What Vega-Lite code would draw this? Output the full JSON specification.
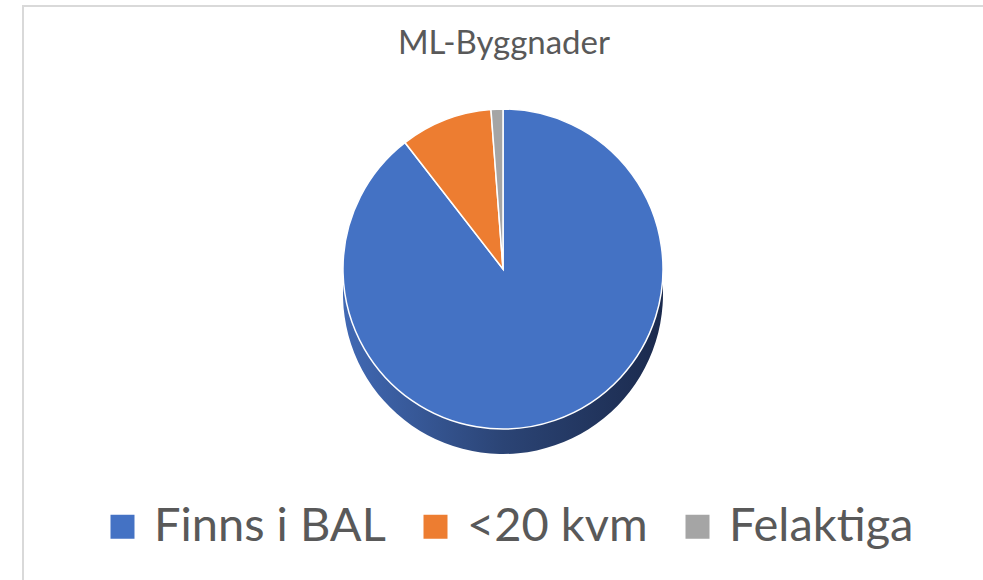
{
  "$schema": "https://vega.github.io/schema/vega-lite/v6.json",
  "width": 983,
  "height": 580,
  "autosize": {"type": "fit", "contains": "padding"},
  "padding": {"left": 23, "top": 6, "right": -12, "bottom": -12},
  "background": "#ffffff",
  "view": {"stroke": "#d9d9d9", "strokeWidth": 2, "fill": "#ffffff"},
  "title": {
    "text": "ML-Byggnader",
    "offset": -52,
    "dy": 29,
    "dx": -5,
    "baseline": "alphabetic",
    "anchor": "middle",
    "font": "Lato",
    "fontSize": 33,
    "fontWeight": "normal",
    "color": "#595959"
  },
  "data": {
    "values": [
      {"kategori": "Finns i BAL", "andel": 89.5, "ordning": 1},
      {"kategori": "<20 kvm", "andel": 9.3, "ordning": 2},
      {"kategori": "Felaktiga", "andel": 1.2, "ordning": 3}
    ]
  },
  "encoding": {
    "theta": {"field": "andel", "type": "quantitative", "stack": true},
    "order": {"field": "ordning", "type": "quantitative"}
  },
  "layer": [
    {
      "mark": {
        "type": "arc",
        "radius": 160,
        "xOffset": -6,
        "yOffset": -5,
        "color": {
          "gradient": "linear",
          "x1": 0, "y1": 0, "x2": 1, "y2": 0,
          "stops": [
            {"offset": 0, "color": "#4169b4"},
            {"offset": 0.5, "color": "#2b4475"},
            {"offset": 1, "color": "#1b2a4d"}
          ]
        }
      }
    },
    {
      "mark": {"type": "arc", "radius": 160, "xOffset": -6, "yOffset": -30, "stroke": "#ffffff", "strokeWidth": 1.5},
      "encoding": {
        "color": {
          "field": "kategori",
          "type": "nominal",
          "scale": {
            "domain": ["Finns i BAL", "<20 kvm", "Felaktiga"],
            "range": ["#4472c4", "#ed7d31", "#a5a5a5"]
          },
          "legend": {
            "orient": "none",
            "legendX": 76,
            "legendY": 497,
            "padding": 0,
            "direction": "horizontal",
            "title": null,
            "symbolType": "square",
            "symbolSize": 576,
            "symbolStrokeWidth": 0,
            "symbolOpacity": 1,
            "labelFont": "Lato",
            "labelFontSize": 47,
            "labelColor": "#595959",
            "labelOffset": 8,
            "columnPadding": 26,
            "labelLimit": 400
          }
        }
      }
    }
  ]
}
